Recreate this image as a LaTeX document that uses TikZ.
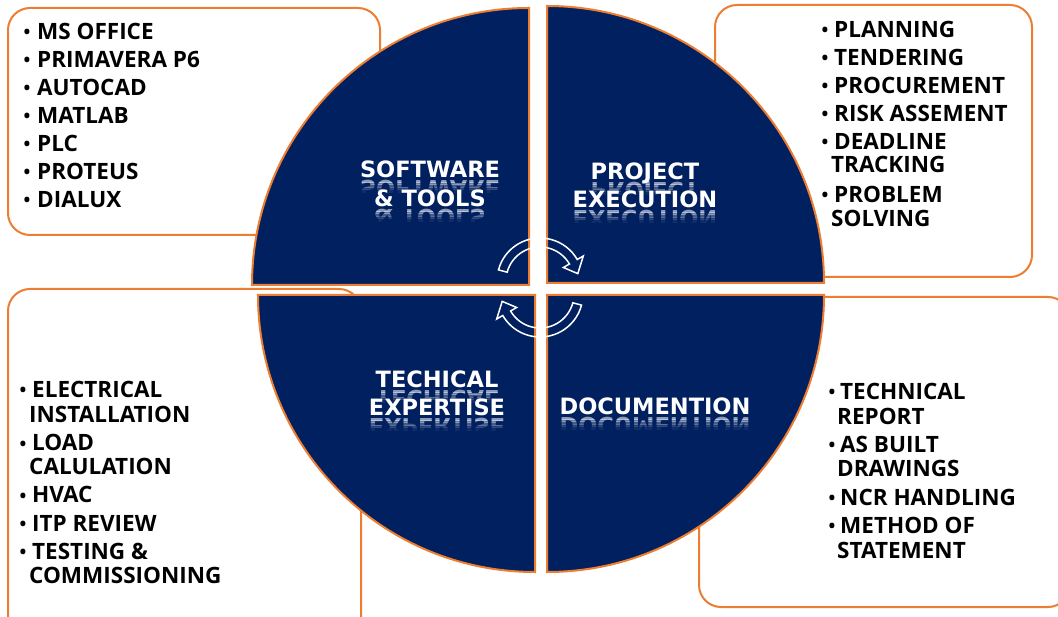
\documentclass[tikz,border=0pt]{standalone}
\usepackage{fontspec}
\newfontfamily\bodyfont{Open Sans}
\newfontfamily\lblfont{DejaVu Sans}
\usetikzlibrary{calc}
\definecolor{navy}{HTML}{002060}
\definecolor{orng}{HTML}{ED7D31}
\tikzset{
 box/.style={draw=orng, line width=2pt, fill=white, rounded corners=22pt},
 quad/.style={draw=orng, line width=2pt, fill=navy},
 itemtxt/.style={anchor=base west, inner sep=0pt, font=\bodyfont\bfseries\fontsize{22.5}{22.5}\selectfont, text=black},
 bul/.style={anchor=base, inner sep=0pt, font=\bodyfont\bfseries\fontsize{18}{18}\selectfont, text=black},
 lbl/.style={anchor=base, inner sep=0pt, font=\lblfont\bfseries\fontsize{22.5}{22.5}\selectfont, text=white},
 arrw/.style={draw=white, line width=1.5pt},
}
% name, bullet x, text x, baseline y, text
\newcommand\bitem[5]{%
 \node[bul] (#1b) at (#2,#4-1) {•};
 \node[itemtxt] (#1) at (#3,#4) {#5};
}
% name, x, baseline y, text
\newcommand\contline[4]{\node[itemtxt] (#1) at (#2,#3) {#4};}
% name, center x, baseline y, text
\newcommand\refl[4]{%
 \foreach \k/\op in {0/0.55,1/0.4,2/0.26,3/0.14,4/0.06}{%
  \begin{scope}
   \clip (#2-130, #3+2+\k*2.5) rectangle (#2+130, #3+4.5+\k*2.5);
   \node[lbl, yscale=-1, transform shape, opacity=\op] (#1r\k) at (#2,#3+3) {#4};
  \end{scope}}
 \node[lbl] (#1) at (#2,#3) {#4};
}
\begin{document}
\begin{tikzpicture}[x=1pt,y=-1pt]
\useasboundingbox (0,0) rectangle (1058,617);
\clip (0,0) rectangle (1058,617);
% boxes
\draw[box] (8,8) rectangle (380,235);
\draw[box] (715,5) rectangle (1032,277);
\draw[box] (8,289) rectangle (361,640);
\draw[box] (699,297) rectangle (1070,607);
% quadrants
\path[quad] (529,285) coordinate (qtl) -- ++(-277,0) arc[start angle=180,end angle=270,radius=277] -- cycle;
\path[quad] (547,283) coordinate (qtr) -- ++(0,-277) arc[start angle=270,end angle=360,radius=277] -- cycle;
\path[quad] (547,295) coordinate (qbr) -- ++(277,0) arc[start angle=0,end angle=90,radius=277] -- cycle;
\path[quad] (535,295) coordinate (qbl) -- ++(0,277) arc[start angle=90,end angle=180,radius=277] -- cycle;
% labels
\refl{sw}{430}{178}{SOFTWARE}
\refl{tools}{430}{207}{\& TOOLS}
\refl{proj}{645}{180}{PROJECT}
\refl{exec}{645}{208}{EXECUTION}
\refl{tech}{437}{388}{TECHICAL}
\refl{expt}{437}{416}{EXPERTISE}
\refl{doc}{655}{415}{DOCUMENTION}
% cycle arrows
\coordinate (c1) at (540,281);
\coordinate (c2) at (540,294);
\draw[arrw] ($(c1)+(195:43)$) arc[start angle=195,end angle=330,radius=43]
  -- ($(c1)+(330:50)$) -- ($(c1)+(349:38.5)$) -- ($(c1)+(330:27)$)
  -- ($(c1)+(330:34)$) arc[start angle=330,end angle=195,radius=34] -- cycle;
\draw[arrw] ($(c2)+(15:43)$) arc[start angle=15,end angle=150,radius=43]
  -- ($(c2)+(150:50)$) -- ($(c2)+(169:38.5)$) -- ($(c2)+(150:27)$)
  -- ($(c2)+(150:34)$) arc[start angle=150,end angle=15,radius=34] -- cycle;
% top-left list
\bitem{a1}{27}{37}{40}{MS OFFICE}
\bitem{a2}{27}{37}{68}{PRIMAVERA P6}
\bitem{a3}{27}{37}{96}{AUTOCAD}
\bitem{a4}{27}{37}{124}{MATLAB}
\bitem{a5}{27}{37}{152}{PLC}
\bitem{a6}{27}{37}{180}{PROTEUS}
\bitem{a7}{27}{37}{208}{DIALUX}
% top-right list
\bitem{b1}{825}{834}{38}{PLANNING}
\bitem{b2}{825}{834}{66}{TENDERING}
\bitem{b3}{825}{834}{94}{PROCUREMENT}
\bitem{b4}{825}{834}{122}{RISK ASSEMENT}
\bitem{b5}{825}{834}{150}{DEADLINE}
\contline{b5c}{831}{173}{TRACKING}
\bitem{b6}{825}{834}{203}{PROBLEM}
\contline{b6c}{831}{227}{SOLVING}
% bottom-left list
\bitem{c1t}{23}{32}{398}{ELECTRICAL}
\contline{c1c}{29}{423}{INSTALLATION}
\bitem{c2t}{23}{32}{451}{LOAD}
\contline{c2c}{29}{475}{CALULATION}
\bitem{c3t}{23}{32}{503}{HVAC}
\bitem{c4t}{23}{32}{531}{ITP REVIEW}
\bitem{c5t}{23}{32}{559}{TESTING \&}
\contline{c5c}{29}{583}{COMMISSIONING}
% bottom-right list
\bitem{d1}{832}{840}{400}{TECHNICAL}
\contline{d1c}{837}{425}{REPORT}
\bitem{d2}{832}{840}{453}{AS BUILT}
\contline{d2c}{837}{477}{DRAWINGS}
\bitem{d3}{832}{840}{505}{NCR HANDLING}
\bitem{d4}{832}{840}{533}{METHOD OF}
\contline{d4c}{837}{558}{STATEMENT}
\end{tikzpicture}
\end{document}
